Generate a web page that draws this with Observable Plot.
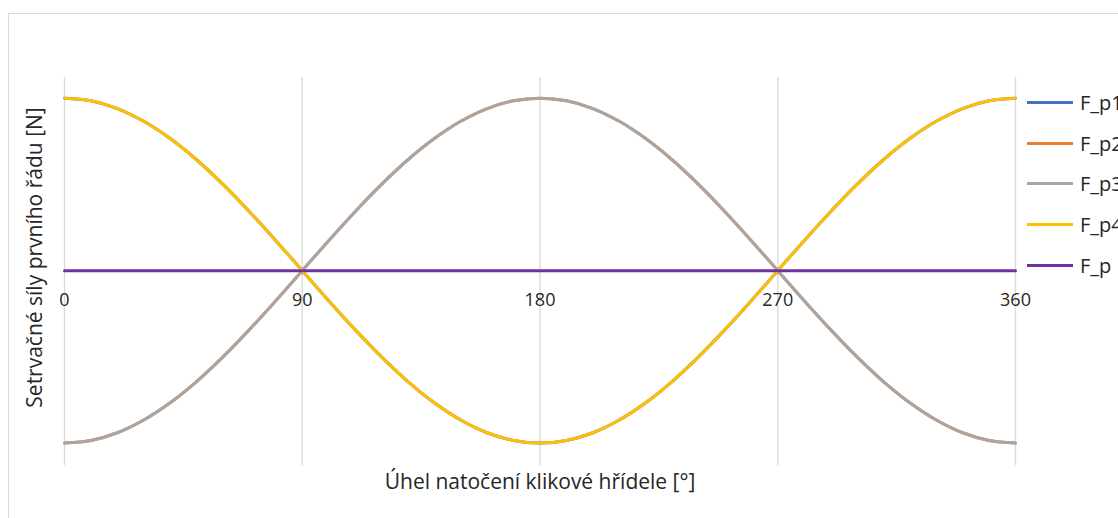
<!DOCTYPE html>
<html>
<head>
<meta charset="utf-8">
<script src="https://cdn.jsdelivr.net/npm/d3@7"></script>
<script src="https://cdn.jsdelivr.net/npm/@observablehq/plot@0.6"></script>
<style>
  html, body { margin: 0; padding: 0; background: #fff; }
  #wrap { position: relative; width: 1118px; height: 518px; overflow: hidden; font-family: "Open Sans", sans-serif; color: #222; }
  #frame { position: absolute; left: 8px; top: 13px; width: 1300px; height: 700px; border: 1px solid #d9d9d9; box-sizing: border-box; }
  #chart { position: absolute; left: 0; top: 0; }
  #legend { position: absolute; left: 1027px; top: 82px; }
  .item { display: flex; align-items: center; height: 40.7px; white-space: nowrap; font-size: 20px; color: #262626; }
  .sw { width: 46px; height: 3px; margin-right: 7px; }
</style>
</head>
<body>
<div id="wrap">
  <div id="frame"></div>
  <div id="chart"></div>
  <div id="legend"></div>
</div>
<script>
// Angles of crank rotation [°]
const angles = [0,10,20,30,40,50,60,70,80,90,100,110,120,130,140,150,160,170,180,190,200,210,220,230,240,250,260,270,280,290,300,310,320,330,340,350,360];
// Series values (normalized, no y scale shown)
const F_p1 = [1.000,0.985,0.940,0.866,0.766,0.643,0.500,0.342,0.174,0.000,-0.174,-0.342,-0.500,-0.643,-0.766,-0.866,-0.940,-0.985,-1.000,-0.985,-0.940,-0.866,-0.766,-0.643,-0.500,-0.342,-0.174,0.000,0.174,0.342,0.500,0.643,0.766,0.866,0.940,0.985,1.000];
const F_p2 = [-1.000,-0.985,-0.940,-0.866,-0.766,-0.643,-0.500,-0.342,-0.174,0.000,0.174,0.342,0.500,0.643,0.766,0.866,0.940,0.985,1.000,0.985,0.940,0.866,0.766,0.643,0.500,0.342,0.174,0.000,-0.174,-0.342,-0.500,-0.643,-0.766,-0.866,-0.940,-0.985,-1.000];
const F_p3 = [-1.000,-0.985,-0.940,-0.866,-0.766,-0.643,-0.500,-0.342,-0.174,0.000,0.174,0.342,0.500,0.643,0.766,0.866,0.940,0.985,1.000,0.985,0.940,0.866,0.766,0.643,0.500,0.342,0.174,0.000,-0.174,-0.342,-0.500,-0.643,-0.766,-0.866,-0.940,-0.985,-1.000];
const F_p4 = [1.000,0.985,0.940,0.866,0.766,0.643,0.500,0.342,0.174,0.000,-0.174,-0.342,-0.500,-0.643,-0.766,-0.866,-0.940,-0.985,-1.000,-0.985,-0.940,-0.866,-0.766,-0.643,-0.500,-0.342,-0.174,0.000,0.174,0.342,0.500,0.643,0.766,0.866,0.940,0.985,1.000];
const F_p  = [0,0,0,0,0,0,0,0,0,0,0,0,0,0,0,0,0,0,0,0,0,0,0,0,0,0,0,0,0,0,0,0,0,0,0,0,0];

const seriesNames = ["F_p1","F_p2","F_p3","F_p4","F_p"];
const seriesColors = ["#4472C4","#ED7D31","#A9A5A3","#FFC000","#7030A0"];
const xTicks = [0, 90, 180, 270, 360];
const xTickLabels = ["0","90","180","270","360"];
const xTitle = "Úhel natočení klikové hřídele [°]";
const yTitle = "Setrvačné síly prvního řádu [N]";

const seriesValues = [F_p1, F_p2, F_p3, F_p4, F_p];
const data = [];
seriesNames.forEach((name, i) => {
  angles.forEach((a, j) => data.push({series: name, angle: a, value: seriesValues[i][j]}));
});

const chart = Plot.plot({
  width: 1118,
  height: 518,
  marginLeft: 64,
  marginRight: 103,
  marginTop: 77,
  marginBottom: 53,
  style: { fontFamily: "Open Sans, sans-serif", background: "transparent", overflow: "visible" },
  x: { domain: [0, 360], axis: null },
  y: { domain: [-1.13, 1.12], axis: null },
  color: { domain: seriesNames, range: seriesColors },
  marks: [
    Plot.ruleX(xTicks, { x: d => d, stroke: "#d9d9d9", strokeWidth: 1.3 }),
    Plot.line(data, { x: "angle", y: "value", z: "series", stroke: "series", strokeWidth: 3, curve: "catmull-rom" }),
    Plot.text(xTicks, { x: d => d, y: 0, dy: 30, text: (d, i) => xTickLabels[i], fontSize: 18, fill: "#262626" }),
    Plot.text([xTitle], { frameAnchor: "bottom", dy: 23, text: d => d, fontSize: 21, fill: "#262626" }),
    Plot.text([yTitle], { frameAnchor: "left", textAnchor: "middle", dx: -29, dy: -14, rotate: -90, text: d => d, fontSize: 21, fill: "#262626" })
  ]
});
document.getElementById("chart").appendChild(chart);

const legend = document.getElementById("legend");
seriesNames.forEach((name, i) => {
  const item = document.createElement("div");
  item.className = "item";
  const sw = document.createElement("div");
  sw.className = "sw";
  sw.style.background = seriesColors[i];
  const label = document.createElement("span");
  label.textContent = name;
  item.appendChild(sw);
  item.appendChild(label);
  legend.appendChild(item);
});
</script>
</body>
</html>
